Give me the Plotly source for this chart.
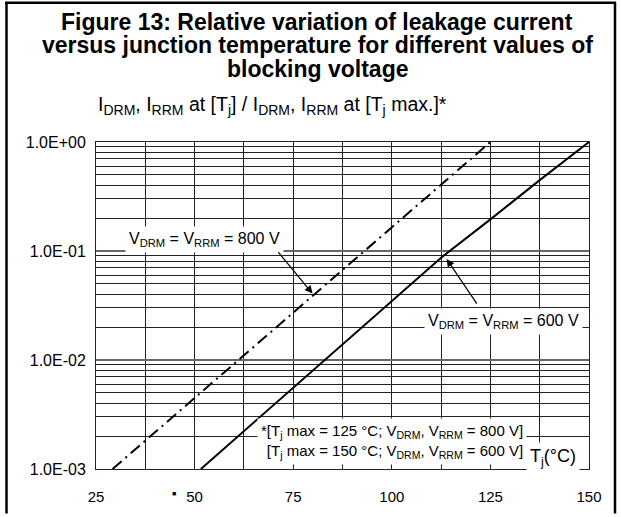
import plotly.graph_objects as go

# ---- data ----
tj_600 = [51.6, 62.5, 75.0, 87.5, 100.0, 112.5, 125.0, 137.5, 150.0]
ratio_600 = [0.001, 0.00222, 0.00556, 0.0139, 0.0348, 0.0869, 0.195, 0.447, 1.0]

tj_800 = [29.2, 125.0]
ratio_800 = [0.001, 1.0]

y_tick_vals = [0.001, 0.01, 0.1, 1.0]
y_tick_text = ["1.0E-03", "1.0E-02", "1.0E-01", "1.0E+00"]
x_tick_vals = [25, 50, 75, 100, 125, 150]
x_tick_text = ["25", "50", "75", "100", "125", "150"]

title_lines = ["Figure 13: Relative variation of leakage current",
               "versus junction temperature for different values of",
               "blocking voltage"]


def sub(s, px):
    return "<sub><span style='font-size:%dpx'>%s</span></sub>" % (px, s)


y_title = ("I" + sub("DRM", 14) + ", I" + sub("RRM", 14) + " at [T" + sub("j", 14) + "] / I"
           + sub("DRM", 14) + ", I" + sub("RRM", 14) + " at [T" + sub("j", 14) + " max.]*")
label_800 = "V<sub>DRM</sub> = V<sub>RRM</sub> = 800 V"
label_600 = "V<sub>DRM</sub> = V<sub>RRM</sub> = 600 V"
footnote = ("*[T<sub>j</sub> max = 125 °C; V<sub>DRM</sub>, V<sub>RRM</sub> = 800 V]<br>"
            "[T<sub>j</sub> max = 150 °C; V<sub>DRM</sub>, V<sub>RRM</sub> = 600 V]")
x_unit = "T<sub>j</sub>(°C)"

FONT = "Liberation Sans, Arial, Helvetica, sans-serif"

L, R, T, B = 96, 32, 142, 45
PW, PH = 621 - L - R, 517 - T - B


def px_x(p):
    return (p - L) / PW


def px_y(p):
    return 1 - (p - T) / PH


fig = go.Figure()
fig.add_trace(go.Scatter(x=tj_800, y=ratio_800, mode="lines",
                         line=dict(color="black", width=2, dash="12px,5px,2px,5px"),
                         showlegend=False, hoverinfo="skip"))
fig.add_trace(go.Scatter(x=tj_600, y=ratio_600, mode="lines",
                         line=dict(color="black", width=2),
                         showlegend=False, hoverinfo="skip"))

fig.update_layout(
    width=621, height=517,
    margin=dict(l=L, r=R, t=T, b=B),
    paper_bgcolor="white", plot_bgcolor="white",
    font=dict(family=FONT, color="black", size=15),
)

fig.update_xaxes(
    range=[25, 150], tickmode="array", tickvals=x_tick_vals, ticktext=x_tick_text,
    showgrid=True, gridcolor="#222", gridwidth=1,
    minor=dict(tickmode="linear", tick0=25, dtick=12.5, showgrid=True, gridcolor="#222", gridwidth=1),
    showline=True, linecolor="#222", linewidth=1, mirror=True,
    ticks="", ticklabelstandoff=14, zeroline=False,
    tickfont=dict(size=15),
)
fig.update_yaxes(
    type="log", range=[-3, 0], tickmode="array", tickvals=y_tick_vals, ticktext=y_tick_text,
    showgrid=True, gridcolor="#666", gridwidth=2,
    minor=dict(dtick="D1", showgrid=True, gridcolor="#222", gridwidth=1),
    showline=True, linecolor="#222", linewidth=1, mirror=True,
    ticks="", ticklabelstandoff=6, zeroline=False,
    tickfont=dict(size=16),
)

# title, one annotation per line
for line, yc in zip(title_lines, [21, 44.5, 68]):
    fig.add_annotation(text="<b>" + line + "</b>", xref="paper", yref="paper",
                       x=px_x(317), y=px_y(yc), xanchor="center", yanchor="middle",
                       showarrow=False, font=dict(size=23))

# y-axis title placed above plot
fig.add_annotation(text=y_title, xref="paper", yref="paper", x=0, y=px_y(105),
                   xanchor="left", yanchor="middle", showarrow=False,
                   font=dict(size=19.5))

# curve labels
fig.add_annotation(text=label_800, x=52.6, y=-0.891, xref="x", yref="y",
                   showarrow=False, bgcolor="white", borderpad=3, font=dict(size=16))
fig.add_annotation(text="", x=79.9, y=-1.391, ax=70.9, ay=-0.997,
                   xref="x", yref="y", axref="x", ayref="y",
                   showarrow=True, arrowhead=2, arrowsize=1.3, arrowwidth=1.2, arrowcolor="black")

fig.add_annotation(text=label_600, x=128.4, y=-1.645, xref="x", yref="y",
                   showarrow=False, bgcolor="white", borderpad=3, font=dict(size=16))
fig.add_annotation(text="", x=113.9, y=-1.073, ax=121.8, ay=-1.497,
                   xref="x", yref="y", axref="x", ayref="y",
                   showarrow=True, arrowhead=2, arrowsize=1.3, arrowwidth=1.2, arrowcolor="black")

fig.add_annotation(text=footnote, x=134.4, y=-2.745, xref="x", yref="y",
                   xanchor="right", yanchor="middle", align="right",
                   showarrow=False, bgcolor="white", borderpad=3, font=dict(size=15))
fig.add_annotation(text=x_unit, x=147.6, y=-2.89, xref="x", yref="y",
                   xanchor="right", yanchor="middle", showarrow=False,
                   bgcolor="white", borderpad=3, font=dict(size=18))

# small stray mark near the 50 label
fig.add_annotation(text="■", x=44.8, y=0, xref="x", yref="paper", yshift=-30,
                   showarrow=False, font=dict(size=7))

# outer frame of the figure box
frame = dict(type="line", xref="paper", yref="paper", line=dict(color="black", width=2.5))
fig.add_shape(**frame, x0=px_x(6.5), x1=px_x(6.5), y0=px_y(517), y1=px_y(1))
fig.add_shape(**frame, x0=px_x(615), x1=px_x(615), y0=px_y(517), y1=px_y(1))
fig.add_shape(**frame, x0=px_x(5), x1=px_x(616), y0=px_y(1.5), y1=px_y(1.5))

fig.write_html("out.html")
